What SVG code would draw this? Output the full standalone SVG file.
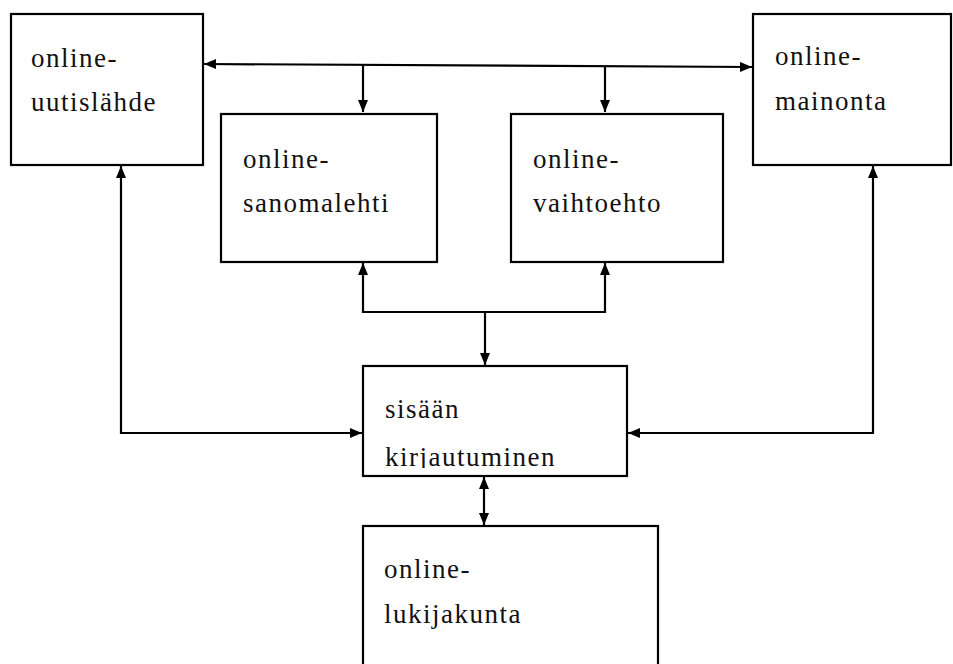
<svg xmlns="http://www.w3.org/2000/svg" width="953" height="664" viewBox="0 0 953 664">
<style>
.box{fill:#fff;stroke:#000;stroke-width:2.2}
.lbl{font-family:'Liberation Serif','DejaVu Serif',serif;font-size:27px;letter-spacing:1.5px;fill:#111}
.conn{fill:none;stroke:#000;stroke-width:2.2}
</style>
<defs>
<marker id="ah" viewBox="0 0 12 10" refX="12" refY="5" markerWidth="12" markerHeight="10" markerUnits="userSpaceOnUse" orient="auto-start-reverse">
<path d="M0,0 L12,5 L0,10 z" fill="#000"/>
</marker>
<clipPath id="clip5"><rect x="363" y="366" width="264" height="102"/></clipPath>
</defs>
<rect width="953" height="664" fill="#fff"/>
<g id="connectors">
<path class="conn" d="M204,64 L752,67" marker-start="url(#ah)" marker-end="url(#ah)"/>
<path class="conn" d="M363,65 L363,112" marker-end="url(#ah)"/>
<path class="conn" d="M605,66 L605,112" marker-end="url(#ah)"/>
<path class="conn" d="M363,263 L363,312 L605,312 L605,263" marker-start="url(#ah)" marker-end="url(#ah)"/>
<path class="conn" d="M485,312 L485,365" marker-end="url(#ah)"/>
<path class="conn" d="M121,166 L121,433 L362,433" marker-start="url(#ah)" marker-end="url(#ah)"/>
<path class="conn" d="M873,166 L873,433 L628,433" marker-start="url(#ah)" marker-end="url(#ah)"/>
<path class="conn" d="M484,477 L484,525" marker-start="url(#ah)" marker-end="url(#ah)"/>
</g>
<g id="uutislahde">
<rect class="box" x="11" y="14" width="192" height="151"/>
<text class="lbl" font-family="Liberation Serif" x="31" y="67">online-</text>
<text class="lbl" font-family="Liberation Serif" x="31" y="111">uutislähde</text>
</g>
<g id="mainonta">
<rect class="box" x="753" y="14" width="198" height="151"/>
<text class="lbl" x="775" y="65">online-</text>
<text class="lbl" x="775" y="110">mainonta</text>
</g>
<g id="sanomalehti">
<rect class="box" x="221" y="114" width="216" height="148"/>
<text class="lbl" x="243" y="168">online-</text>
<text class="lbl" x="243" y="212">sanomalehti</text>
</g>
<g id="vaihtoehto">
<rect class="box" x="511" y="114" width="212" height="148"/>
<text class="lbl" x="533" y="168">online-</text>
<text class="lbl" x="533" y="212">vaihtoehto</text>
</g>
<g id="kirjautuminen">
<rect class="box" x="363" y="366" width="264" height="110"/>
<g clip-path="url(#clip5)">
<text class="lbl" x="385" y="418">sisään</text>
<text class="lbl" x="385" y="466">kirjautuminen</text>
</g>
</g>
<g id="lukijakunta">
<rect class="box" x="363" y="526" width="295" height="145"/>
<text class="lbl" x="384" y="578">online-</text>
<text class="lbl" x="384" y="623">lukijakunta</text>
</g>
</svg>
